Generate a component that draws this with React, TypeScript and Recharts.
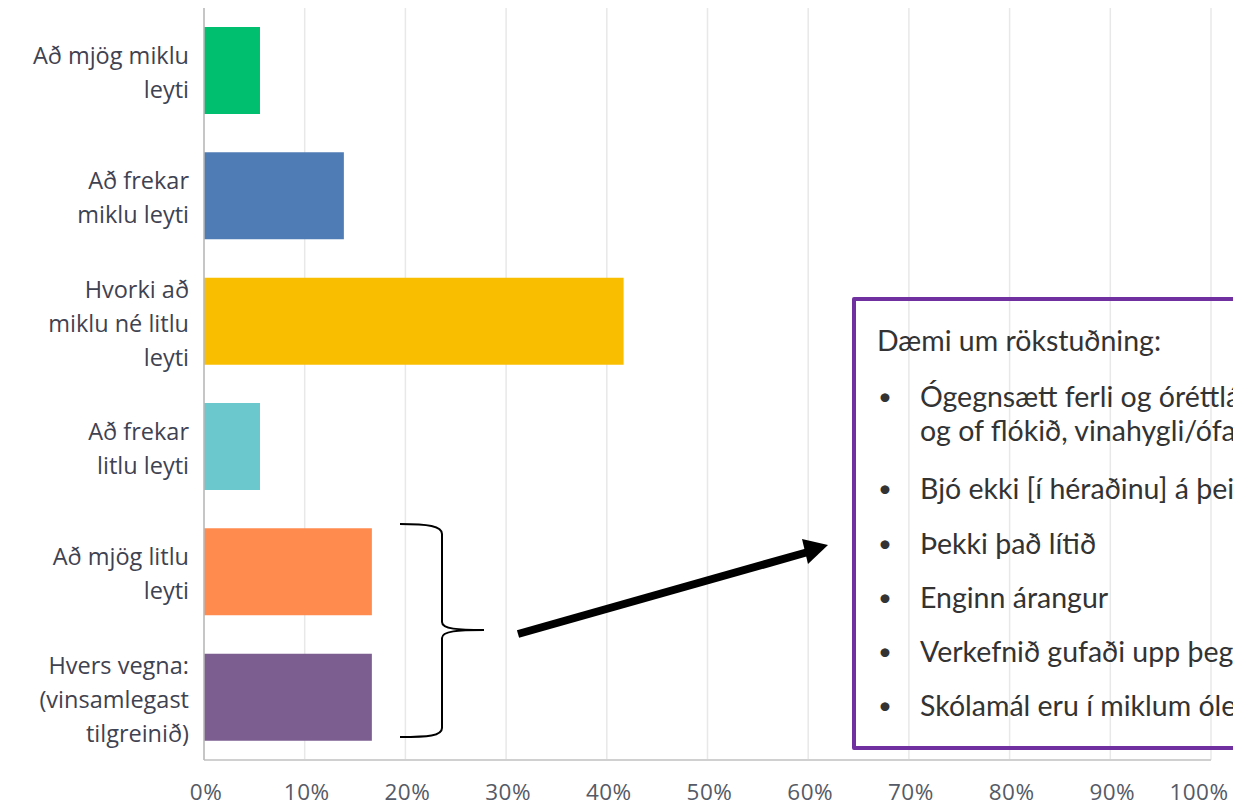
import { Bar, BarChart, CartesianGrid, Cell, XAxis, YAxis } from 'recharts';

const categoryLines = [
  ['Að mjög miklu', 'leyti'],
  ['Að frekar', 'miklu leyti'],
  ['Hvorki að', 'miklu né litlu', 'leyti'],
  ['Að frekar', 'litlu leyti'],
  ['Að mjög litlu', 'leyti'],
  ['Hvers vegna:', '(vinsamlegast', 'tilgreinið)'],
];
const values = [5.56, 13.89, 41.67, 5.56, 16.67, 16.67];
const colors = ['#00bf6f', '#507cb6', '#f9be00', '#6bc8cd', '#ff8b4f', '#7d5e90'];
const xTicks = [0, 10, 20, 30, 40, 50, 60, 70, 80, 90, 100];

const noteTitle = 'Dæmi um rökstuðning:';
const noteBullets = [
  ['Ógegnsætt ferli og óréttlátt', 'og of flókið, vinahygli/ófagmennska'],
  ['Bjó ekki [í héraðinu] á þeim tíma'],
  ['Þekki það lítið'],
  ['Enginn árangur'],
  ['Verkefnið gufaði upp þegar'],
  ['Skólamál eru í miklum ólestri'],
];
const bulletTops = [78, 170, 225, 279, 333, 387];

const data = categoryLines.map((lines, i) => ({
  name: lines.join(' '),
  value: values[i],
}));

const W = 1233;
const H = 806;
const axisFont = '"Open Sans", sans-serif';
const noteFont = 'Lato, "Open Sans", sans-serif';

const YTick = ({ y, index }: any) => {
  const lines = categoryLines[index] || [];
  const start = y - ((lines.length - 1) * 34) / 2 + 2;
  return (
    <text textAnchor="end" fontSize={23.5} fill="#3f4250" fontFamily={axisFont}>
      {lines.map((l, i) => (
        <tspan key={i} x={189} y={start + i * 34} dy="0.35em">
          {l}
        </tspan>
      ))}
    </text>
  );
};

const XTick = ({ x, payload }: any) => {
  const shift = payload.value === 100 ? -12 : 2;
  return (
    <text
      x={x + shift}
      y={792}
      dy="0.35em"
      textAnchor="middle"
      fontSize={22.5}
      letterSpacing={0.5}
      fill="#555a66"
      fontFamily={axisFont}
    >
      {payload.value}%
    </text>
  );
};

const App = () => {
  return (
    <div style={{ position: 'relative', width: W, height: H, overflow: 'hidden', background: '#fff' }}>
      <style>{'body{margin:0}'}</style>
      <BarChart
        width={W}
        height={H}
        data={data}
        layout="vertical"
        margin={{ top: 8, right: 22, bottom: 0, left: 0 }}
      >
        <CartesianGrid horizontal={false} stroke="#e8e8e8" strokeWidth={1.5} />
        <XAxis
          type="number"
          domain={[0, 100]}
          ticks={xTicks}
          tick={<XTick />}
          tickLine={false}
          axisLine={{ stroke: '#d0d0d0', strokeWidth: 2 }}
          height={46}
          interval={0}
        />
        <YAxis
          type="category"
          dataKey="name"
          width={204}
          tick={<YTick />}
          tickLine={false}
          axisLine={{ stroke: '#b8b8b8', strokeWidth: 1.5 }}
          interval={0}
        />
        <Bar dataKey="value" barSize={87} isAnimationActive={false}>
          {data.map((d, i) => (
            <Cell key={d.name} fill={colors[i]} />
          ))}
        </Bar>
      </BarChart>

      <svg width={W} height={H} style={{ position: 'absolute', left: 0, top: 0, pointerEvents: 'none' }}>
        <path
          d="M400 524 C428 524 442 526 442 534 L442 622 C442 629 458 630 484 630 C458 630 442 631 442 638 L442 728 C442 736 428 737 400 737"
          fill="none"
          stroke="#000"
          strokeWidth={2}
        />
        <line x1={518} y1={634} x2={808} y2={552} stroke="#000" strokeWidth={8} />
        <polygon points="828,545 802,539 808,564" fill="#000" />
      </svg>

      <div
        style={{
          position: 'absolute',
          left: 852,
          top: 297,
          width: 700,
          height: 453,
          border: '4px solid #7030a0',
          borderRadius: 2,
          boxSizing: 'border-box',
          fontFamily: noteFont,
          fontSize: 28.5,
          lineHeight: '34px',
          color: '#333',
          whiteSpace: 'nowrap',
        }}
      >
        <div style={{ position: 'absolute', left: 21, top: 22 }}>{noteTitle}</div>
        {noteBullets.map((b, i) => (
          <div key={i} style={{ position: 'absolute', left: 0, top: bulletTops[i] }}>
            <span style={{ position: 'absolute', left: 22, fontSize: 24 }}>•</span>
            {b.map((l, j) => (
              <div key={j} style={{ position: 'absolute', left: 64, top: j * 34 }}>
                {l}
              </div>
            ))}
          </div>
        ))}
      </div>
    </div>
  );
};

export default App;
